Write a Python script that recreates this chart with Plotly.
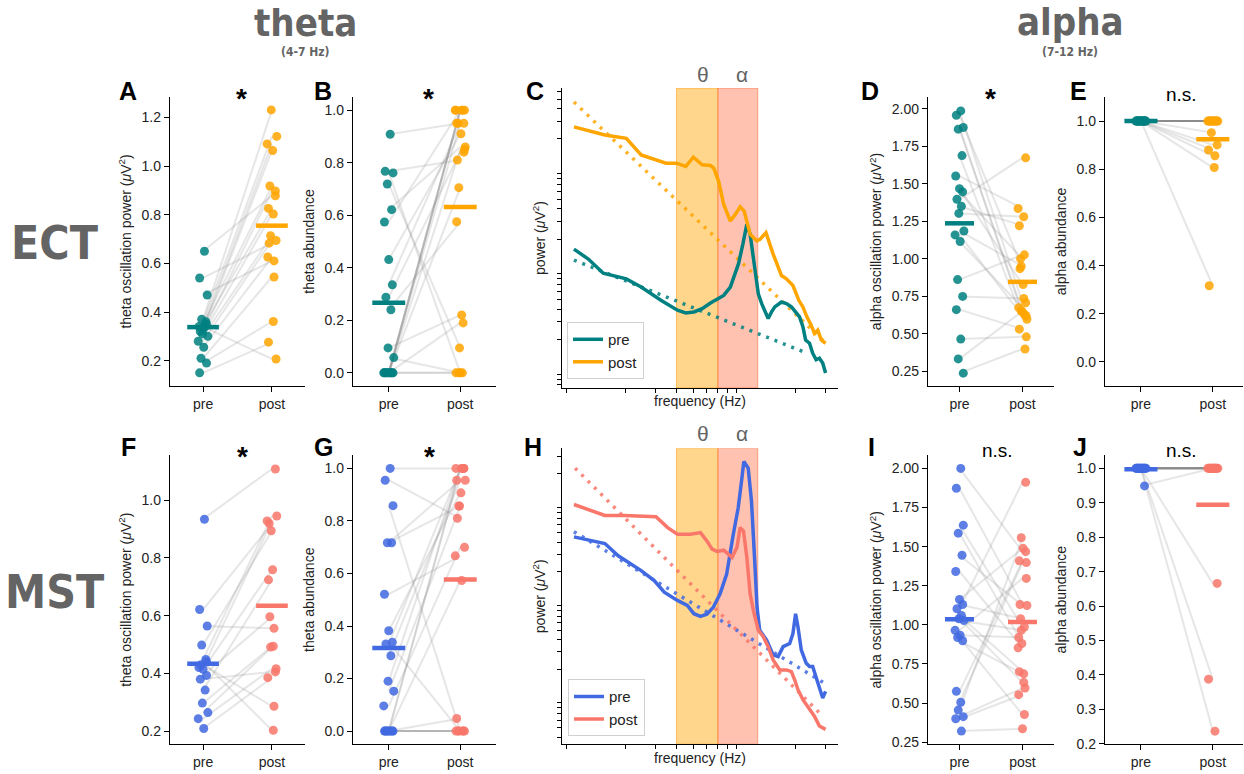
import numpy as np
import plotly.graph_objects as go

# ---------------- data ----------------
groups = ["pre", "post"]

# A: ECT theta oscillation power
A_pre = [0.65, 0.54, 0.47, 0.37, 0.36, 0.34, 0.33, 0.35, 0.32, 0.34, 0.31, 0.30, 0.28, 0.255, 0.21, 0.19, 0.15, 0.34]
A_post = [0.878, 0.683, 0.61, 1.231, 1.122, 1.091, 1.064, 0.918, 0.898, 0.826, 0.803, 0.714, 0.694, 0.626, 0.544, 0.361, 0.276, 0.207]
A_mean = [0.338, 0.755]

# B: ECT theta abundance
B_pre = [0.908, 0.767, 0.761, 0.719, 0.621, 0.574, 0.431, 0.335, 0.288, 0.24, 0.095, 0.058,
         0.0, 0.0, 0.0, 0.0, 0.0, 0.0, 0.0, 0.0, 0.0, 0.0]
B_post = [0.95, 0.81, 0.0, 0.095, 0.86, 1.0, 0.91, 0.95, 0.84, 0.575, 0.22, 0.0,
          1.0, 1.0, 1.0, 1.0, 0.95, 0.85, 0.705, 0.19, 0.0, 0.0]
B_mean = [0.267, 0.631]

# C: ECT power spectra (log10 power, arbitrary units)
C_pre_freq = [1.0, 1.215, 1.486, 2.03, 2.48, 3.24, 4.05, 4.53, 5.06, 5.66, 6.33, 7.07, 7.57, 8.28, 8.85, 9.24,
              9.81, 10.35, 10.82, 11.3, 11.83, 12.08, 12.65, 13.81, 14.46, 15.1, 16.53, 17.67, 18.9, 20.2,
              21.1, 22.08, 22.9, 24.15, 25.2, 26.4, 27.6, 28.85, 30.0]
C_pre_logpow = [0.201, 0.102, -0.040, -0.096, -0.178, -0.310, -0.409, -0.436, -0.426, -0.393, -0.337, -0.284,
                -0.261, -0.178, -0.046, 0.053, 0.251, 0.449, 0.350, 0.119, -0.079, -0.244, -0.343, -0.492,
                -0.426, -0.376, -0.327, -0.343, -0.376, -0.442, -0.475, -0.574, -0.706, -0.739, -0.838,
                -0.904, -0.888, -0.937, -1.036]
C_post_freq = [1.0, 1.52, 2.03, 2.48, 3.47, 4.0, 4.53, 5.02, 5.66, 6.33, 6.62, 7.07, 7.57, 8.28, 8.85, 9.46,
               9.98, 10.82, 11.83, 12.37, 13.4, 14.77, 16.53, 17.67, 19.3, 20.9, 22.08, 23.3, 24.7, 25.8,
               27.0, 28.3, 30.0]
C_post_logpow = [1.422, 1.340, 1.307, 1.142, 1.059, 1.059, 1.026, 1.119, 1.043, 1.036, 1.010, 0.878, 0.647,
                 0.482, 0.548, 0.624, 0.581, 0.350, 0.284, 0.300, 0.366, 0.152, -0.063, -0.096, -0.162,
                 -0.310, -0.376, -0.475, -0.558, -0.640, -0.607, -0.706, -0.739]
C_pre_fit_freq = [1.0, 22.1]
C_pre_fit_logpow = [0.092, -0.822]
C_post_fit_freq = [1.0, 29.5]
C_post_fit_logpow = [1.670, -0.723]

# D: ECT alpha oscillation power
D_pre = [1.985, 1.956, 1.874, 1.863, 1.687, 1.551, 1.467, 1.445, 1.396, 1.35, 1.302, 1.185, 1.159, 1.115,
         0.861, 0.749, 0.661, 0.465, 0.333, 0.238]
D_post = [0.707, 0.934, 0.63, 0.65, 0.597, 1.335, 0.828, 1.0, 1.672, 1.22, 1.28, 0.95, 0.619, 0.674,
          1.026, 0.736, 0.531, 0.48, 0.652, 0.399]
D_mean = [1.236, 0.846]

# E: ECT alpha abundance
E_pre = [1.0, 1.0, 1.0, 1.0, 1.0, 1.0, 1.0, 1.0, 1.0, 1.0, 1.0, 1.0, 1.0, 1.0, 1.0, 1.0, 1.0]
E_post = [1.0, 1.0, 1.0, 1.0, 1.0, 1.0, 1.0, 1.0, 1.0, 1.0, 1.0, 0.952, 0.901, 0.88, 0.856, 0.807, 0.316]
E_mean = [1.0, 0.924]

# F: MST theta oscillation power
F_pre = [0.934, 0.621, 0.564, 0.498, 0.448, 0.42, 0.414, 0.393, 0.38, 0.342, 0.297, 0.264, 0.243, 0.209, 0.43, 0.44]
F_post = [1.108, 0.919, 0.556, 0.894, 0.945, 0.928, 0.759, 0.596, 0.405, 0.724, 0.494, 0.491, 0.416, 0.385, 0.286, 0.203]
F_mean = [0.433, 0.634]

# G: MST theta abundance
G_pre = [1.0, 0.955, 0.858, 0.717, 0.717, 0.521, 0.382, 0.338, 0.332, 0.287, 0.19, 0.152, 0.096,
         0.0, 0.0, 0.0, 0.0, 0.0, 0.0, 0.0, 0.0]
G_post = [1.0, 0.81, 0.0, 0.857, 0.955, 0.667, 0.907, 0.0, 1.0, 0.955, 1.0, 0.857, 0.70,
          1.0, 1.0, 0.573, 0.048, 0.0, 0.0, 0.0, 0.0]
G_mean = [0.316, 0.577]

# H: MST power spectra (log10 power, arbitrary units)
H_pre_freq = [1.0, 1.215, 1.52, 1.82, 2.08, 2.48, 2.96, 3.39, 4.05, 4.63, 5.06, 5.53, 6.03, 6.59, 7.21, 7.88,
              8.62, 9.21, 9.63, 9.94, 10.54, 11.02, 11.51, 11.88, 12.31, 13.52, 14.77, 15.8, 16.9, 18.47,
              19.3, 20.0, 20.65, 21.6, 23.1, 24.15, 25.2, 26.4, 27.6, 28.85, 30.0]
H_pre_logpow = [0.656, 0.622, 0.588, 0.463, 0.395, 0.310, 0.208, 0.090, 0.005, -0.046, -0.131, -0.158, -0.137,
                -0.063, 0.073, 0.276, 0.683, 0.954, 1.225, 1.429, 1.361, 1.022, 0.412, -0.063, -0.300,
                -0.402, -0.554, -0.571, -0.469, -0.436, -0.334, -0.131, -0.266, -0.503, -0.639, -0.673,
                -0.673, -0.792, -0.876, -0.995, -0.927]
H_post_freq = [1.0, 1.52, 1.98, 3.03, 3.55, 4.05, 4.84, 5.53, 6.03, 6.47, 6.92, 7.57, 8.47, 9.05, 9.46, 9.89,
               10.35, 10.82, 11.3, 12.08, 12.92, 13.81, 14.77, 16.15, 17.67, 18.9, 19.75, 20.65, 22.08,
               24.15, 25.8, 27.6, 30.0]
H_post_logpow = [0.988, 0.876, 0.876, 0.863, 0.751, 0.683, 0.683, 0.700, 0.615, 0.531, 0.507, 0.520, 0.446,
                 0.547, 0.751, 0.717, 0.446, 0.073, -0.097, -0.300, -0.367, -0.469, -0.605, -0.707, -0.707,
                 -0.724, -0.808, -0.910, -1.012, -1.114, -1.181, -1.283, -1.317]
H_pre_fit_freq = [1.0, 29.5]
H_pre_fit_logpow = [0.710, -0.842]
H_post_fit_freq = [1.016, 28.85]
H_post_fit_logpow = [1.361, -1.181]

# I: MST alpha oscillation power
I_pre = [2.0, 1.873, 1.637, 1.586, 1.445, 1.341, 1.162, 1.13, 1.103, 1.06, 1.039, 1.028, 0.965, 0.934,
         0.919, 0.898, 0.575, 0.505, 0.455, 0.413, 0.40, 0.321]
I_post = [1.468, 1.13, 0.986, 0.881, 1.124, 0.853, 1.489, 1.039, 1.911, 0.701, 0.632, 0.965, 1.297, 0.919,
          0.427, 0.687, 1.409, 1.398, 1.557, 0.596, 0.554, 0.336]
I_mean = [1.036, 1.018]

# J: MST alpha abundance
J_pre = [1.0, 1.0, 1.0, 1.0, 1.0, 1.0, 1.0, 1.0, 1.0, 1.0, 1.0, 1.0, 1.0, 1.0, 1.0, 0.949]
J_post = [1.0, 1.0, 1.0, 1.0, 1.0, 1.0, 1.0, 1.0, 1.0, 1.0, 1.0, 1.0, 0.666, 0.388, 0.237, 1.0]
J_mean = [0.997, 0.894]

# ---------------- styling / layout ----------------
W, H = 1244, 774
TEAL = "#008080"
ORANGE = "#FFA500"
BLUE = "#4169E1"
SALMON = "#F8766A"
PAIR = "rgba(130,130,130,0.2)"
TXT = "#222222"
GREY = "#646464"
FONT = "Liberation Sans, Arial, Helvetica, sans-serif"
NARROW = "Liberation Sans Narrow, Arial Narrow, DejaVu Sans Condensed, sans-serif"
TICK_SIZE = 14
TITLE_SIZE = 14

JIT = [0.02, -0.05, 0.06, -0.02, 0.04, -0.06, 0.0, 0.05, -0.04, 0.03, -0.01, 0.07,
       -0.07, 0.01, -0.03, 0.05, -0.05, 0.02, -0.02, 0.06, -0.06, 0.03]


def fx(p):
    return p / W


def fy(p):
    return 1 - p / H


COLS = {1: (170, 305), 2: (353, 496), 3: (562, 838), 4: (928, 1054), 5: (1105, 1243)}
XR = {1: [-0.48, 1.48], 2: [-0.5, 1.5], 4: [-0.5, 1.5], 5: [-0.5, 1.42]}
STRIP_ROWS = {0: (98, 390), 1: (460, 752)}
LOG_ROWS = {0: (89, 392), 1: (453, 752)}

fig = go.Figure()
layout = dict(width=W, height=H, margin=dict(l=0, r=0, t=0, b=0),
              paper_bgcolor="white", plot_bgcolor="white",
              font=dict(family=FONT, size=14, color=TXT), showlegend=True)

axis_common = dict(showline=True, linecolor="black", linewidth=1.3, ticks="outside",
                   ticklen=5, tickwidth=1.3, tickcolor="black", showgrid=False, zeroline=False,
                   tickfont=dict(family=FONT, size=TICK_SIZE, color=TXT))


def ttl(s, standoff):
    return dict(text=s, standoff=standoff, font=dict(family=FONT, size=TITLE_SIZE, color=TXT))


def names(n):
    s = "" if n == 1 else str(n)
    return "x" + s, "y" + s, "xaxis" + s, "yaxis" + s


strip_panels = [
    # n, col, row, pre, post, mean, colors, yrange, tickvals, fmt, ytitle
    (1, 1, 0, A_pre, A_post, A_mean, (TEAL, ORANGE), [0.096, 1.284], [0.2, 0.4, 0.6, 0.8, 1.0, 1.2], ".1f",
     "theta oscillation power (<i>μ</i>V<sup>2</sup>)"),
    (2, 2, 0, B_pre, B_post, B_mean, (TEAL, ORANGE), [-0.05, 1.05], [0, 0.2, 0.4, 0.6, 0.8, 1.0], ".1f",
     "theta abundance"),
    (4, 4, 0, D_pre, D_post, D_mean, (TEAL, ORANGE), [0.1525, 2.0775],
     [0.25, 0.5, 0.75, 1.0, 1.25, 1.5, 1.75, 2.0], ".2f", "alpha oscillation power (<i>μ</i>V<sup>2</sup>)"),
    (5, 5, 0, E_pre, E_post, E_mean, (TEAL, ORANGE), [-0.1, 1.1], [0, 0.2, 0.4, 0.6, 0.8, 1.0], ".1f",
     "alpha abundance"),
    (6, 1, 1, F_pre, F_post, F_mean, (BLUE, SALMON), [0.1545, 1.1555], [0.2, 0.4, 0.6, 0.8, 1.0], ".1f",
     "theta oscillation power (<i>μ</i>V<sup>2</sup>)"),
    (7, 2, 1, G_pre, G_post, G_mean, (BLUE, SALMON), [-0.05, 1.05], [0, 0.2, 0.4, 0.6, 0.8, 1.0], ".1f",
     "theta abundance"),
    (9, 4, 1, I_pre, I_post, I_mean, (BLUE, SALMON), [0.237, 2.084],
     [0.25, 0.5, 0.75, 1.0, 1.25, 1.5, 1.75, 2.0], ".2f", "alpha oscillation power (<i>μ</i>V<sup>2</sup>)"),
    (10, 5, 1, J_pre, J_post, J_mean, (BLUE, SALMON), [0.199, 1.038],
     [0.2, 0.3, 0.4, 0.5, 0.6, 0.7, 0.8, 0.9, 1.0], ".1f", "alpha abundance"),
]

for n, col, row, pre, post, mean, cols, yr, tv, fmt, ytitle in strip_panels:
    xr_, yr_, xa, ya = names(n)
    x0, x1 = COLS[col]
    t, b = STRIP_ROWS[row]
    layout[xa] = dict(axis_common, domain=[fx(x0), fx(x1)], range=XR[col], anchor=yr_,
                      tickvals=[0, 1], ticktext=groups)
    layout[ya] = dict(axis_common, domain=[fy(b), fy(t)], range=yr, anchor=xr_,
                      tickvals=tv, tickformat=fmt, title=ttl(ytitle, 6))
    nj = len(JIT)
    for i, (a, c) in enumerate(zip(pre, post)):
        fig.add_trace(go.Scatter(x=[0, 1], y=[a, c], mode="lines",
                                 line=dict(color=PAIR, width=2), xaxis=xr_, yaxis=yr_,
                                 showlegend=False, hoverinfo="skip"))
    fig.add_trace(go.Scatter(x=[0 + JIT[i % nj] for i in range(len(pre))], y=pre, mode="markers",
                             marker=dict(size=9, color=cols[0], opacity=0.85, line=dict(width=0)),
                             xaxis=xr_, yaxis=yr_, showlegend=False))
    fig.add_trace(go.Scatter(x=[1 + JIT[(i + 7) % nj] for i in range(len(post))], y=post, mode="markers",
                             marker=dict(size=9, color=cols[1], opacity=0.85, line=dict(width=0)),
                             xaxis=xr_, yaxis=yr_, showlegend=False))
    for k in range(2):
        fig.add_trace(go.Scatter(x=[k - 0.23, k + 0.23], y=[mean[k], mean[k]], mode="lines",
                                 line=dict(color=cols[k], width=4.5), xaxis=xr_, yaxis=yr_,
                                 showlegend=False, hoverinfo="skip"))

# ---------------- spectra panels ----------------
log_panels = [
    (3, 0, [-1.185, 1.809], (TEAL, ORANGE),
     (C_pre_freq, C_pre_logpow, C_post_freq, C_post_logpow,
      C_pre_fit_freq, C_pre_fit_logpow, C_post_fit_freq, C_post_fit_logpow), "legend"),
    (8, 1, [-1.469, 1.564], (BLUE, SALMON),
     (H_pre_freq, H_pre_logpow, H_post_freq, H_post_logpow,
      H_pre_fit_freq, H_pre_fit_logpow, H_post_fit_freq, H_post_fit_logpow), "legend2"),
]

xtick_minor = [0.9, 2, 3, 4, 5, 6, 7, 8, 9, 20, 30]
for n, row, yrng, cols, dat, leg in log_panels:
    xr_, yr_, xa, ya = names(n)
    x0, x1 = COLS[3]
    t, b = LOG_ROWS[row]
    lo, hi = 10 ** yrng[0], 10 ** yrng[1]
    ytv = [m * 10.0 ** e for e in range(-3, 3) for m in range(2, 10) if lo <= m * 10.0 ** e <= hi]
    layout[xa] = dict(axis_common, type="log", domain=[fx(x0), fx(x1)], range=[-0.07, 1.55], anchor=yr_,
                      tickvals=xtick_minor, showticklabels=False, ticklen=4,
                      title=ttl("frequency (Hz)", 4))
    layout[ya] = dict(axis_common, type="log", domain=[fy(b), fy(t)], range=yrng, anchor=xr_,
                      tickvals=ytv, showticklabels=False, ticklen=3.5,
                      title=ttl("power (<i>μ</i>V<sup>2</sup>)", 8))
    # frequency bands
    fig.add_trace(go.Scatter(x=[4, 7, 7, 4, 4], y=[lo, lo, hi, hi, lo], mode="lines", fill="toself",
                             fillcolor="rgba(255,165,0,0.45)", line=dict(color="rgba(255,150,0,0.55)", width=1),
                             xaxis=xr_, yaxis=yr_, showlegend=False, hoverinfo="skip"))
    fig.add_trace(go.Scatter(x=[7, 12, 12, 7, 7], y=[lo, lo, hi, hi, lo], mode="lines", fill="toself",
                             fillcolor="rgba(255,120,80,0.45)", line=dict(color="rgba(255,110,60,0.55)", width=1),
                             xaxis=xr_, yaxis=yr_, showlegend=False, hoverinfo="skip"))
    pf, pl, qf, ql, pff, pfl, qff, qfl = dat
    fig.add_trace(go.Scatter(x=pff, y=10 ** np.array(pfl), mode="lines",
                             line=dict(color=cols[0], width=3.5, dash="3px,6px"), opacity=0.85,
                             xaxis=xr_, yaxis=yr_, showlegend=False, hoverinfo="skip"))
    fig.add_trace(go.Scatter(x=qff, y=10 ** np.array(qfl), mode="lines",
                             line=dict(color=cols[1], width=3.5, dash="3px,6px"), opacity=0.85,
                             xaxis=xr_, yaxis=yr_, showlegend=False, hoverinfo="skip"))
    fig.add_trace(go.Scatter(x=pf, y=10 ** np.array(pl), mode="lines", name="pre",
                             line=dict(color=cols[0], width=3.5), xaxis=xr_, yaxis=yr_,
                             legend=leg, showlegend=True))
    fig.add_trace(go.Scatter(x=qf, y=10 ** np.array(ql), mode="lines", name="post",
                             line=dict(color=cols[1], width=3.5), xaxis=xr_, yaxis=yr_,
                             legend=leg, showlegend=True))

leg_common = dict(xanchor="left", yanchor="bottom", bgcolor="rgba(255,255,255,0.85)",
                  bordercolor="#d0d0d0", borderwidth=1, font=dict(family=FONT, size=15, color=TXT),
                  itemwidth=30, tracegroupgap=0)
layout["legend"] = dict(leg_common, x=fx(567), y=fy(383))
layout["legend2"] = dict(leg_common, x=fx(568), y=fy(744))

# ---------------- annotations ----------------
ann = []


def text(x, y, s, size, color=TXT, bold=False, family=FONT):
    ann.append(dict(x=fx(x), y=fy(y), xref="paper", yref="paper", text=s, showarrow=False,
                    xanchor="center", yanchor="middle",
                    font=dict(size=size, color=color, family=family, weight="bold" if bold else "normal")))


text(305, 23, "theta", 38, GREY, True, NARROW)
text(305, 53, "(4-7 Hz)", 12, GREY, True, NARROW)
text(1070, 22, "alpha", 38, GREY, True, NARROW)
text(1070, 53, "(7-12 Hz)", 12, GREY, True, NARROW)
text(55, 246, "ECT", 46, GREY, True, NARROW)
text(55, 598, "MST", 46, GREY, True, NARROW)

for lab, x, y in [("A", 128, 92), ("B", 323, 92), ("C", 535, 92), ("D", 870, 92), ("E", 1078, 92),
                  ("F", 128, 452), ("G", 323, 452), ("H", 533, 452), ("I", 871, 452), ("J", 1080, 452)]:
    text(x, y, lab, 25, "black", True)

for s, x, y in [("*", 241, 100), ("*", 428, 100), ("*", 990, 100), ("n.s.", 1181, 95),
                ("*", 242, 461), ("*", 429, 461), ("n.s.", 997, 455), ("n.s.", 1181, 455)]:
    if s == "*":
        text(x, y, s, 28, "black", True)
    else:
        text(x, y, s, 19, "black")

for y in (75, 438):
    text(703, y, "θ", 21, GREY)
    text(742, y, "α", 21, GREY)

layout["annotations"] = ann
fig.update_layout(**layout)
fig.write_html("out.html")
